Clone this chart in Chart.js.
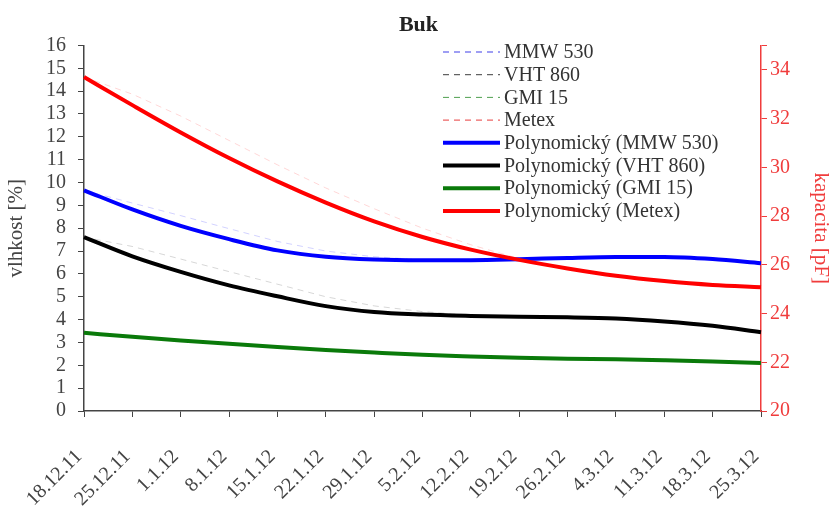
<!DOCTYPE html>
<html>
<head>
<meta charset="utf-8">
<title>Buk</title>
<script src="https://cdn.jsdelivr.net/npm/chart.js@4"></script>
<style>
    html, body { margin: 0; padding: 0; background: #fff; }
    #wrap { width: 837px; height: 506px; }
</style>
</head>
<body>
<div id="wrap"><canvas id="grafBuk" width="837" height="506"></canvas></div>
<script>
// ============================================
// DATA
// ============================================

const datumy = ['18.12.11', '25.12.11', '1.1.12', '8.1.12', '15.1.12', '22.1.12', '29.1.12',
    '5.2.12', '12.2.12', '19.2.12', '26.2.12', '4.3.12', '11.3.12', '18.3.12', '25.3.12'];

// naměřené hodnoty (čárkované)
const mmw530 = [9.66, 9.1, 8.55, 7.98, 7.42, 7.0, 6.75, 6.62, 6.6, 6.64, 6.7, 6.74, 6.74, 6.65, 6.47];
const vht860 = [7.61, 7.2, 6.65, 6.1, 5.55, 5.0, 4.6, 4.35, 4.2, 4.12, 4.1, 4.05, 3.92, 3.73, 3.45];
const gmi15  = [3.42, 3.25, 3.09, 2.94, 2.8, 2.67, 2.56, 2.46, 2.39, 2.33, 2.29, 2.26, 2.22, 2.17, 2.1];
const metex  = [33.7, 33.0, 32.1, 31.1, 30.1, 29.15, 28.3, 27.5, 26.82, 26.25, 25.85, 25.55, 25.33, 25.17, 25.08];

// polynomické spojnice trendu
const polyMmw530 = [9.66, 8.82, 8.1, 7.52, 7.03, 6.75, 6.63, 6.6, 6.6, 6.64, 6.7, 6.74, 6.74, 6.65, 6.47];
const polyVht860 = [7.61, 6.77, 6.09, 5.5, 5.02, 4.59, 4.33, 4.22, 4.16, 4.12, 4.1, 4.05, 3.92, 3.73, 3.45];
const polyGmi15  = [3.42, 3.25, 3.09, 2.94, 2.8, 2.67, 2.56, 2.46, 2.39, 2.33, 2.29, 2.26, 2.22, 2.17, 2.1];
const polyMetex  = [33.7, 32.55, 31.43, 30.38, 29.42, 28.55, 27.78, 27.14, 26.62, 26.2, 25.85, 25.55, 25.33, 25.17, 25.08];

const FONT = "'Liberation Serif', 'Times New Roman', serif";
const SEDA = '#444444';
const CERVENA = '#f03c3c';

// Čárkovaná řada
function rada(label, data, barva, legendaBarva, osa) {
    return {
        label: label,
        data: data,
        yAxisID: osa,
        borderColor: barva,
        legendColor: legendaBarva,
        borderWidth: 1,
        borderDash: [6, 5],
        pointRadius: 0,
        fill: false,
        tension: 0,
        order: 5
    };
}

// Tlustá polynomická spojnice
function trend(label, data, barva, osa, poradi) {
    return {
        label: label,
        data: data,
        yAxisID: osa,
        borderColor: barva,
        legendColor: barva,
        borderWidth: 4,
        pointRadius: 0,
        fill: false,
        cubicInterpolationMode: 'monotone',
        order: poradi
    };
}

/**
 * Legenda kreslená uvnitř plochy grafu (jako v Excelu)
 */
const legendaPlugin = {
    id: 'legendaUvnitr',
    afterDraw(chart, args, opts) {
        const ctx = chart.ctx;
        ctx.save();
        ctx.font = opts.fontSize + 'px ' + FONT;
        ctx.textBaseline = 'middle';
        ctx.textAlign = 'left';
        chart.data.datasets.forEach((ds, i) => {
            const y = opts.y + i * opts.krok;
            ctx.strokeStyle = ds.legendColor;
            ctx.lineWidth = ds.borderWidth;
            ctx.setLineDash(ds.borderDash || []);
            ctx.beginPath();
            ctx.moveTo(opts.x, y);
            ctx.lineTo(opts.x + opts.delka, y);
            ctx.stroke();
            ctx.setLineDash([]);
            ctx.fillStyle = '#333';
            ctx.fillText(ds.label, opts.x + opts.delka + 4, y + 1);
        });
        ctx.restore();
    }
};

const ctx = document.getElementById('grafBuk');

new Chart(ctx, {
    type: 'line',
    data: {
        labels: datumy,
        datasets: [
            rada('MMW 530', mmw530, 'rgba(0, 0, 255, 0.18)', 'rgba(40, 40, 230, 0.9)', 'y'),
            rada('VHT 860', vht860, 'rgba(0, 0, 0, 0.16)', 'rgba(40, 40, 40, 0.9)', 'y'),
            rada('GMI 15', gmi15, 'rgba(0, 128, 0, 0.2)', 'rgba(60, 150, 60, 0.9)', 'y'),
            rada('Metex', metex, 'rgba(255, 0, 0, 0.16)', 'rgba(230, 40, 40, 0.9)', 'y1'),
            trend('Polynomický (MMW 530)', polyMmw530, '#0000ff', 'y', 1),
            trend('Polynomický (VHT 860)', polyVht860, '#000000', 'y', 1),
            trend('Polynomický (GMI 15)', polyGmi15, '#0a7a0a', 'y', 1),
            trend('Polynomický (Metex)', polyMetex, '#ff0000', 'y1', 0)
        ]
    },
    options: {
        responsive: false,
        animation: false,
        layout: { padding: 0 },
        plugins: {
            legend: { display: false },
            tooltip: { enabled: false },
            title: {
                display: true,
                text: 'Buk',
                color: '#222',
                font: { family: FONT, size: 22, weight: 'bold', lineHeight: 1.2 },
                padding: { top: 12, bottom: 7 }
            },
            legendaUvnitr: { x: 443, y: 52, krok: 22.7, delka: 57, fontSize: 20 }
        },
        scales: {
            x: {
                offset: false,
                grid: { drawOnChartArea: false, tickLength: 6, color: SEDA, offset: false },
                border: { color: SEDA, width: 1.5 },
                ticks: {
                    color: SEDA,
                    font: { family: FONT, size: 20 },
                    minRotation: 45,
                    maxRotation: 45,
                    autoSkip: false,
                    padding: 28,
                    labelOffset: -5
                },
                afterFit: (scale) => { scale.height = 95; }
            },
            y: {
                position: 'left',
                min: 0,
                max: 16,
                grid: { drawOnChartArea: false, tickLength: 6, color: SEDA },
                border: { color: SEDA, width: 1.5 },
                ticks: {
                    stepSize: 1,
                    autoSkip: false,
                    color: SEDA,
                    font: { family: FONT, size: 20 },
                    padding: 12
                },
                title: {
                    display: true,
                    text: 'vlhkost [%]',
                    color: SEDA,
                    font: { family: FONT, size: 21 }
                },
                afterFit: (scale) => { scale.width = 84; }
            },
            y1: {
                position: 'right',
                min: 20,
                max: 35,
                grid: { drawOnChartArea: false, tickLength: 6, color: CERVENA },
                border: { color: CERVENA, width: 1.5 },
                ticks: {
                    stepSize: 2,
                    color: CERVENA,
                    font: { family: FONT, size: 20 },
                    padding: 3,
                    callback: (v) => (v % 2 === 0 ? v : '')
                },
                title: {
                    display: true,
                    text: 'kapacita [pF]',
                    color: CERVENA,
                    font: { family: FONT, size: 21 }
                },
                afterFit: (scale) => { scale.width = 76; }
            }
        }
    },
    plugins: [legendaPlugin]
});
</script>
</body>
</html>
